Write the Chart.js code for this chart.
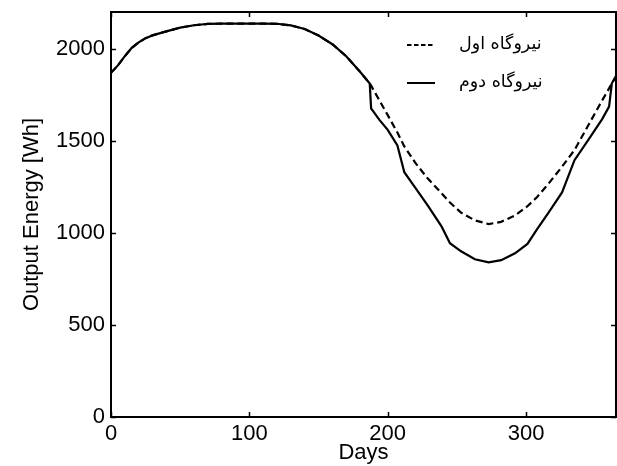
<!DOCTYPE html>
<html><head><meta charset="utf-8">
<script src="https://cdn.jsdelivr.net/npm/chart.js@4/dist/chart.umd.min.js"></script>
<style>html,body{margin:0;padding:0;background:#fff;}#wrap{width:617px;height:466px;}</style>
</head><body><div id="wrap"><canvas id="c" width="617" height="466"></canvas></div>
<script>
// ---- data ----
const days = [0,5,10,15,20,25,30,40,50,60,70,80,90,100,110,120,130,140,150,160,170,180,187,188,194,200,207,212,220,229,239,245,253,263,273,282,292,301,308,316,326,335,345,355,360,362,365];
const plant1 = [1870,1910,1960,2005,2035,2058,2073,2095,2115,2128,2135,2137,2137,2137,2137,2136,2127,2108,2072,2025,1960,1875,1812,1800,1720,1640,1545,1470,1380,1295,1215,1165,1110,1068,1048,1060,1095,1145,1195,1265,1360,1450,1585,1720,1785,1812,1850];
const plant2 = [1870,1910,1960,2005,2035,2058,2073,2095,2115,2128,2135,2137,2137,2137,2137,2136,2127,2108,2072,2025,1960,1875,1812,1677,1614,1560,1475,1330,1245,1148,1034,944,900,857,840,852,889,940,1020,1107,1220,1395,1505,1618,1686,1813,1850];
const seriesNames = ['نیروگاه اول', 'نیروگاه دوم'];
const xTicks = [0,100,200,300];
const yTicks = [0,500,1000,1500,2000];
const xRange = [0,365];
const yRange = [0,2200];
const xTitle = 'Days';
const yTitle = 'Output Energy [Wh]';

const FONT = '"Liberation Sans", Arial, sans-serif';

const framePlugin = {
  id: 'frameTicks',
  afterDraw(chart) {
    const ctx = chart.ctx, a = chart.chartArea;
    const xs = chart.scales.x, ys = chart.scales.y;
    ctx.save();
    ctx.strokeStyle = '#000';
    ctx.lineWidth = 2;
    ctx.strokeRect(a.left, a.top, a.right - a.left, a.bottom - a.top);
    ctx.lineWidth = 1.5;
    const L = 5;
    ctx.beginPath();
    xs.ticks.forEach(t => {
      const px = Math.round(xs.getPixelForValue(t.value)) + 0.5;
      ctx.moveTo(px, a.bottom); ctx.lineTo(px, a.bottom - L);
      ctx.moveTo(px, a.top); ctx.lineTo(px, a.top + L);
    });
    ys.ticks.forEach(t => {
      const py = Math.round(ys.getPixelForValue(t.value)) + 0.5;
      ctx.moveTo(a.left, py); ctx.lineTo(a.left + L, py);
      ctx.moveTo(a.right, py); ctx.lineTo(a.right - L, py);
    });
    ctx.stroke();
    // legend
    const lx = 407, lw = 28, tx = 459, rows = [45, 83];
    chart.data.datasets.forEach((ds, i) => {
      const y = rows[i];
      ctx.beginPath();
      ctx.setLineDash(ds.borderDash && ds.borderDash.length ? [4.5, 2.5] : []);
      ctx.lineWidth = 2;
      ctx.moveTo(lx, y); ctx.lineTo(lx + lw, y);
      ctx.stroke();
      ctx.setLineDash([]);
      ctx.fillStyle = '#000';
      ctx.font = '17.5px "DejaVu Sans", sans-serif';
      ctx.textAlign = 'left';
      ctx.textBaseline = 'middle';
      ctx.fillText(ds.label, tx, y - 1);
    });
    ctx.restore();
  }
};

const pts = arr => days.map((d, i) => ({x: d, y: arr[i]}));

new Chart(document.getElementById('c'), {
  type: 'line',
  data: {
    datasets: [
      { label: seriesNames[0], data: pts(plant1), borderColor: '#000', borderWidth: 2.2, borderDash: [7,4], pointRadius: 0, tension: 0, fill: false },
      { label: seriesNames[1], data: pts(plant2), borderColor: '#000', borderWidth: 2.2, pointRadius: 0, tension: 0, fill: false }
    ]
  },
  options: {
    responsive: false,
    animation: false,
    devicePixelRatio: 1,
    layout: { padding: { top: 12, right: 1, left: 0, bottom: 0 } },
    plugins: { legend: { display: false }, tooltip: { enabled: false } },
    scales: {
      x: {
        type: 'linear', min: xRange[0], max: xRange[1],
        afterBuildTicks: s => { s.ticks = xTicks.map(v => ({value: v})); },
        afterFit: s => { s.height = 49; s.paddingLeft = 0; s.paddingRight = 0; },
        grid: { display: false, drawTicks: false, tickLength: 0 },
        border: { display: false },
        ticks: { color: '#000', font: { family: FONT, size: 22 }, padding: 4, maxRotation: 0, autoSkip: false, callback: v => String(v) },
        title: { display: true, text: xTitle, color: '#000', font: { family: FONT, size: 22 }, padding: { top: 0, bottom: 0 } }
      },
      y: {
        type: 'linear', min: yRange[0], max: yRange[1],
        afterBuildTicks: s => { s.ticks = yTicks.map(v => ({value: v})); },
        afterFit: s => { s.width = 111; s.paddingTop = 0; s.paddingBottom = 0; },
        grid: { display: false, drawTicks: false, tickLength: 0 },
        border: { display: false },
        ticks: { color: '#000', font: { family: FONT, size: 22 }, padding: 6, autoSkip: false, callback: v => String(v) },
        title: { display: true, text: yTitle, color: '#000', font: { family: FONT, size: 22 }, padding: { top: 19, bottom: 0 } }
      }
    }
  },
  plugins: [framePlugin]
});
</script></body></html>
